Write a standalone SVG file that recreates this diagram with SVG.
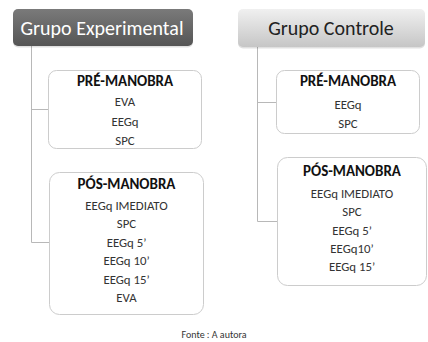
<svg xmlns="http://www.w3.org/2000/svg" width="428" height="342" viewBox="0 0 428 342">
<defs>
<linearGradient id="gDark" x1="0" y1="0" x2="0" y2="1">
<stop offset="0" stop-color="#7a7a7a"/>
<stop offset="1" stop-color="#555555"/>
</linearGradient>
<linearGradient id="gLight" x1="0" y1="0" x2="0" y2="1">
<stop offset="0" stop-color="#f0f0f0"/>
<stop offset="1" stop-color="#c6c6c6"/>
</linearGradient>
</defs>
<style>
text{font-family:Carlito,Lato,"Open Sans",sans-serif;text-anchor:middle}
.hd{font-size:20px}
.tt{font-size:15px;font-weight:bold;fill:#111}
.it{font-size:12.8px;fill:#333}
.box{fill:#fff;stroke:#cccccc;stroke-width:1}
.sh{fill:#000;opacity:0.12}
.ln{stroke:#b8b8b8;stroke-width:1;fill:none}
</style>
<rect width="428" height="342" fill="#fff"/>
<g id="connectors">
<path class="ln" d="M31.5 46 V242.5 H49 M31.5 109.5 H48"/>
<path class="ln" d="M257.5 47 V221.5 H277 M257.5 102.5 H276"/>
</g>
<g id="grupo-experimental">
<rect class="sh" x="13" y="10.5" width="180" height="37" rx="5"/>
<rect x="13" y="9" width="180" height="37" rx="5" fill="url(#gDark)"/>
<text class="hd" x="102" y="34.5" fill="#fff">Grupo Experimental</text>
</g>
<g id="grupo-controle">
<rect class="sh" x="238" y="10.5" width="187" height="38" rx="5"/>
<rect x="238" y="9" width="187" height="38" rx="5" fill="url(#gLight)"/>
<text class="hd" x="331" y="34.5" fill="#222">Grupo Controle</text>
</g>
<g id="exp-pre">
<rect class="box" x="48.5" y="70.5" width="153" height="78" rx="8"/>
<text class="tt" x="125" y="86">PRÉ-MANOBRA</text>
<text class="it" x="125" y="106">EVA</text>
<text class="it" x="125" y="125.5">EEGq</text>
<text class="it" x="125" y="144.5">SPC</text>
</g>
<g id="exp-pos">
<rect class="box" x="49.5" y="172.5" width="154" height="142" rx="10"/>
<text class="tt" x="126.5" y="189">PÓS-MANOBRA</text>
<text class="it" x="126.5" y="209.5">EEGq IMEDIATO</text>
<text class="it" x="126.5" y="228">SPC</text>
<text class="it" x="126.5" y="246.5">EEGq 5’</text>
<text class="it" x="126.5" y="265">EEGq 10’</text>
<text class="it" x="126.5" y="283.5">EEGq 15’</text>
<text class="it" x="126.5" y="302">EVA</text>
</g>
<g id="ctrl-pre">
<rect class="box" x="276.5" y="70.5" width="143" height="63" rx="8"/>
<text class="tt" x="348" y="86">PRÉ-MANOBRA</text>
<text class="it" x="348" y="109">EEGq</text>
<text class="it" x="348" y="128">SPC</text>
</g>
<g id="ctrl-pos">
<rect class="box" x="277.5" y="157.5" width="149" height="128" rx="10"/>
<text class="tt" x="352" y="176">PÓS-MANOBRA</text>
<text class="it" x="352" y="198">EEGq IMEDIATO</text>
<text class="it" x="352" y="216">SPC</text>
<text class="it" x="352" y="234.5">EEGq 5’</text>
<text class="it" x="352" y="252.5">EEGq10’</text>
<text class="it" x="352" y="271">EEGq 15’</text>
</g>
<text x="214" y="338" style="font-size:10px;fill:#333">Fonte : A autora</text>
</svg>
